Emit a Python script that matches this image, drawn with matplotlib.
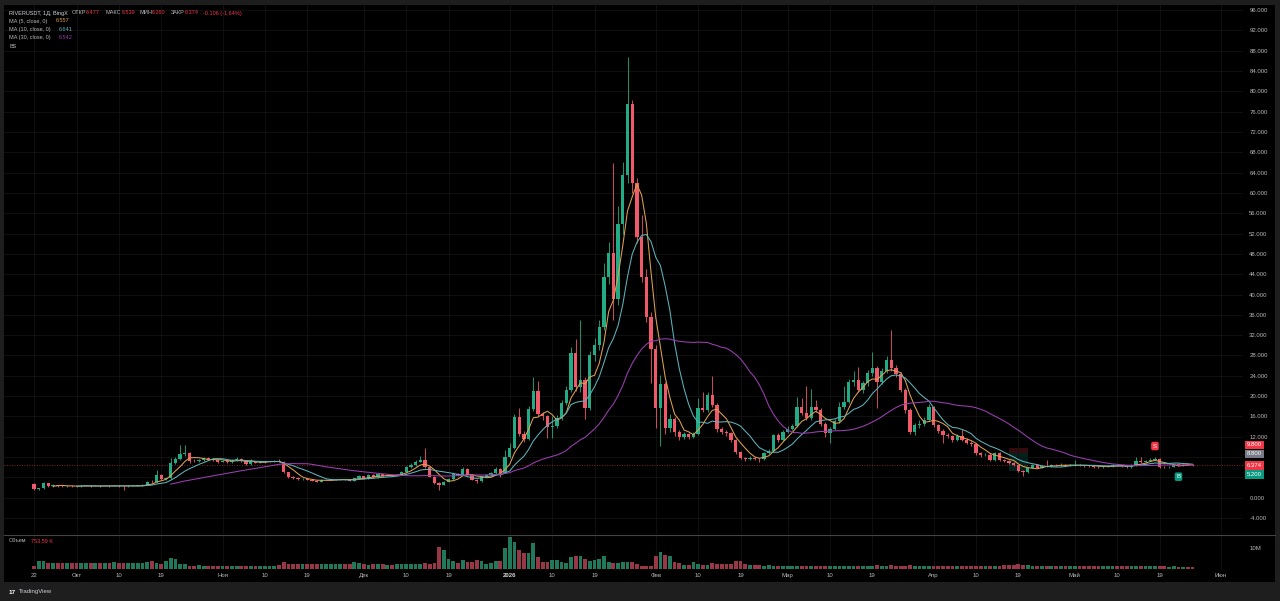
import numpy as np
import pandas as pd
import matplotlib
matplotlib.use('Agg')
import matplotlib.pyplot as plt
import matplotlib.transforms as mtransforms
from matplotlib.patches import Rectangle
from matplotlib.lines import Line2D

plt.rcParams['font.family'] = ['Liberation Sans', 'DejaVu Sans']

# ---------------- data ----------------
start_date = '2025-09-22'
first_open = 2.6

closes = [
    1.7, 1.9, 2.8, 2.3, 2.5, 2.3, 2.25, 2.3, 2.28, 2.25,
    2.3, 2.35, 2.3, 2.32, 2.3, 2.35, 2.3, 2.33, 2.3, 2.25,
    2.3, 2.35, 2.4, 2.45, 3.1, 3.0, 4.4, 3.7, 3.8, 6.8,
    7.6, 8.6, 8.8, 7.3, 7.2, 7.4, 7.9, 7.6, 7.4, 7.1,
    7.3, 7.0, 7.4, 7.6, 7.2, 6.6, 7.2, 6.9, 7.0, 7.1,
    7.2, 7.3, 7.1, 5.0, 4.1, 3.9, 3.6, 3.7, 3.5, 3.3,
    3.1, 3.5, 3.5, 3.6, 3.6, 3.65, 3.62, 3.36, 3.82, 4.28,
    3.75, 4.48, 4.0, 4.67, 4.3, 4.4, 4.35, 4.45, 5.13, 6.1,
    6.4, 7.1, 7.4, 6.0, 4.15, 2.84, 2.5, 3.17, 3.6, 4.6,
    4.5, 5.6, 4.5, 3.5, 3.2, 4.1, 4.4, 4.8, 5.6, 4.9,
    8.0, 9.7, 15.9, 12.6, 11.6, 17.5, 21.1, 16.5, 16.0, 14.0,
    14.2, 15.6, 18.7, 21.2, 28.4, 21.8, 23.1, 17.6, 28.0, 30.0,
    33.7, 43.5, 48.1, 39.2, 53.9, 63.5, 77.6, 61.9, 51.4, 43.5,
    35.6, 29.3, 17.7, 22.3, 13.8, 15.5, 12.9, 11.9, 12.5, 12.0,
    12.6, 17.7, 17.3, 20.2, 18.2, 13.6, 13.0, 12.7, 11.4, 9.0,
    7.9, 7.7, 7.9, 7.7, 7.6, 8.8, 9.2, 12.3, 11.3, 13.0,
    13.6, 14.1, 17.8, 16.6, 15.6, 17.8, 17.3, 14.6, 12.7, 13.6,
    15.0, 17.8, 18.9, 22.8, 23.2, 21.2, 22.5, 24.5, 25.5, 22.8,
    25.0, 27.1, 25.5, 24.3, 21.2, 17.2, 13.0, 14.3, 14.5, 15.3,
    17.8, 14.3, 13.2, 12.4, 12.1, 11.4, 12.1, 11.4, 10.8, 10.5,
    8.7, 8.4, 8.5, 7.5, 8.8, 7.4, 7.2, 6.9, 6.4, 5.3,
    5.0, 5.9, 6.4, 5.9, 6.3, 6.2, 6.5, 6.4, 6.5, 6.3,
    6.4, 6.5, 6.4, 6.3, 6.2, 6.1, 6.0, 6.1, 6.2, 6.5,
    6.4, 6.2, 6.0, 6.4, 7.3, 7.0, 7.3, 7.5, 7.7, 6.1,
    6.0, 6.1, 6.7, 6.4, 6.5, 6.477, 6.374,
]

highs = [
    2.8, 2.0, 3.0, 2.9, 2.6, 2.55, 2.4, 2.4, 2.4, 2.35,
    2.4, 2.45, 2.4, 2.4, 2.45, 2.45, 2.4, 2.4, 2.4, 2.35,
    2.4, 2.45, 2.5, 2.6, 3.3, 3.5, 5.4, 4.6, 4.0, 7.8,
    8.0, 10.4, 10.4, 9.0, 7.6, 7.6, 8.1, 8.0, 7.8, 7.5,
    7.5, 7.4, 7.6, 8.0, 7.8, 7.3, 7.7, 7.3, 7.2, 7.3,
    7.3, 7.5, 7.6, 7.2, 5.1, 4.3, 4.0, 3.9, 3.8, 3.6,
    3.4, 3.6, 3.7, 3.7, 3.7, 3.75, 3.75, 3.7, 3.9, 4.4,
    4.35, 4.6, 4.6, 4.8, 4.75, 4.55, 4.5, 4.6, 5.3, 6.3,
    6.8, 7.4, 8.2, 9.7, 6.1, 4.3, 3.0, 3.3, 3.8, 4.8,
    4.9, 6.1, 5.8, 4.6, 3.7, 4.3, 4.6, 5.0, 6.0, 5.8,
    9.4, 10.7, 16.5, 17.6, 13.2, 18.0, 23.8, 22.9, 16.8, 16.3,
    16.0, 16.2, 19.3, 22.0, 29.6, 31.2, 35.0, 23.8, 28.8, 31.5,
    35.0, 46.2, 50.4, 65.9, 57.5, 66.0, 86.8, 78.3, 63.0, 55.7,
    45.0, 36.5, 30.0, 24.2, 22.8, 16.5, 15.8, 13.3, 12.9, 12.8,
    13.0, 19.6, 20.8, 20.8, 24.0, 18.6, 14.0, 13.4, 13.0, 11.6,
    9.2, 8.1, 8.2, 8.0, 7.9, 9.0, 9.6, 12.6, 12.8, 13.4,
    14.2, 14.5, 19.9, 19.7, 21.9, 21.4, 19.2, 17.6, 14.9, 14.0,
    15.4, 18.9, 21.9, 23.4, 25.0, 25.8, 23.0, 25.2, 28.6, 26.0,
    25.6, 27.8, 33.0, 26.2, 24.8, 21.6, 17.6, 14.8, 15.2, 15.8,
    18.5, 18.1, 14.6, 13.6, 12.8, 12.3, 12.5, 13.5, 11.7, 11.1,
    10.7, 8.9, 8.8, 8.7, 9.0, 9.0, 7.6, 7.4, 7.0, 6.5,
    5.5, 6.1, 6.6, 6.5, 6.5, 7.4, 6.7, 6.7, 6.8, 6.6,
    6.6, 7.5, 6.6, 6.5, 6.4, 6.3, 6.2, 6.3, 6.4, 6.7,
    6.6, 6.5, 6.3, 6.6, 8.1, 8.1, 7.5, 7.8, 8.1, 7.8,
    6.3, 6.3, 6.9, 6.8, 6.7, 6.6, 6.539,
]

lows = [
    1.5, 1.6, 1.8, 2.2, 2.2, 2.2, 2.15, 2.2, 2.2, 2.15,
    2.2, 2.25, 2.2, 2.25, 2.2, 2.25, 2.2, 2.25, 2.2, 1.6,
    2.2, 2.25, 2.3, 2.35, 2.4, 2.9, 2.9, 3.5, 3.5, 3.7,
    6.6, 7.4, 8.3, 6.8, 7.0, 7.0, 7.3, 7.4, 7.2, 6.9,
    7.0, 6.8, 6.9, 7.3, 7.0, 6.5, 6.5, 6.8, 6.8, 6.9,
    7.0, 7.1, 7.0, 4.8, 3.9, 3.7, 3.5, 3.5, 3.4, 3.2,
    3.0, 3.0, 3.4, 3.4, 3.5, 3.5, 3.5, 3.25, 3.3, 3.75,
    3.7, 3.7, 3.9, 3.95, 4.2, 4.25, 4.25, 4.3, 4.4, 5.0,
    5.9, 6.3, 7.0, 5.9, 4.0, 2.7, 1.5, 2.4, 3.1, 3.5,
    4.3, 4.4, 4.4, 3.4, 2.8, 3.1, 4.0, 4.3, 4.7, 4.1,
    4.8, 7.8, 9.5, 12.2, 10.9, 11.4, 17.0, 16.0, 15.2, 11.8,
    11.7, 13.8, 15.2, 18.2, 20.8, 21.0, 20.8, 15.5, 17.2, 27.0,
    29.0, 33.0, 42.0, 35.0, 38.0, 52.0, 62.0, 60.0, 50.1, 42.5,
    34.5, 22.5, 13.8, 10.2, 12.5, 13.0, 12.2, 11.3, 11.5, 11.6,
    11.7, 12.4, 16.8, 16.9, 17.8, 13.0, 12.5, 12.2, 11.0, 8.6,
    7.6, 7.3, 7.5, 7.4, 7.0, 7.5, 8.6, 9.0, 11.0, 11.1,
    12.7, 13.3, 13.9, 16.2, 15.2, 15.3, 16.9, 14.2, 12.0, 10.7,
    13.3, 14.8, 17.5, 18.6, 22.0, 20.8, 20.6, 22.0, 24.0, 17.6,
    22.3, 24.6, 25.0, 23.8, 20.8, 16.6, 12.5, 12.3, 13.8, 14.1,
    15.0, 14.0, 12.8, 10.7, 11.8, 11.0, 11.2, 11.1, 10.5, 10.2,
    8.4, 8.1, 8.2, 7.2, 7.3, 7.2, 7.0, 6.7, 6.2, 5.1,
    4.2, 4.9, 5.8, 5.8, 5.8, 6.0, 6.1, 6.2, 6.3, 6.2,
    6.2, 6.3, 6.2, 6.1, 6.0, 5.9, 5.8, 5.9, 6.0, 6.1,
    6.3, 6.1, 5.9, 5.9, 6.3, 6.9, 6.9, 7.2, 7.4, 5.9,
    5.8, 5.9, 6.0, 6.3, 6.3, 6.35, 6.26,
]

volumes_m = [
    1.6, 3.7, 3.7, 2.9, 2.9, 3.0, 2.8, 2.9, 3.0, 2.8,
    2.9, 3.0, 2.8, 2.9, 3.0, 2.8, 2.9, 3.1, 2.8, 2.9,
    3.0, 2.8, 2.7, 3.0, 3.2, 3.7, 3.0, 2.4, 4.0, 5.4,
    4.8, 2.6, 2.2, 1.6, 1.5, 1.8, 1.4, 1.4, 1.3, 1.4,
    1.3, 1.4, 1.5, 1.4, 1.3, 1.4, 1.3, 1.4, 1.5, 1.3,
    1.4, 1.5, 1.9, 3.4, 2.6, 2.4, 2.4, 2.3, 2.4, 2.4,
    2.3, 2.4, 2.4, 2.3, 2.4, 2.2, 2.4, 2.4, 3.4, 2.8,
    2.4, 2.1, 2.3, 2.6, 2.2, 2.0, 2.1, 2.2, 2.4, 2.5,
    2.3, 2.4, 2.6, 2.9, 2.6, 2.9, 10.6, 9.0, 4.8, 4.0,
    2.9, 4.2, 3.2, 3.2, 4.2, 4.0, 2.3, 2.9, 3.8, 4.0,
    10.0, 15.4, 13.0, 9.0, 7.4, 7.4, 12.5, 5.8, 3.5, 3.4,
    4.5, 4.2, 3.4, 2.9, 5.6, 6.1, 6.1, 4.8, 3.7, 4.5,
    4.8, 6.1, 3.4, 3.0, 2.9, 3.2, 3.4, 3.2, 2.4, 1.6,
    1.3, 1.4, 6.1, 8.2, 6.9, 6.4, 3.5, 2.9, 1.9, 1.9,
    3.2, 2.6, 1.9, 2.1, 2.9, 2.6, 2.2, 2.6, 2.2, 3.8,
    3.8, 2.6, 1.9, 1.7, 1.8, 1.6, 1.7, 1.6, 1.5, 1.4,
    1.6, 1.5, 1.6, 1.5, 1.6, 1.5, 1.4, 1.5, 1.4, 1.3,
    1.5, 1.4, 1.5, 1.6, 1.5, 1.4, 1.3, 1.5, 1.6, 1.9,
    1.5, 1.6, 1.8, 1.6, 1.5, 1.6, 1.8, 1.5, 1.4, 1.5,
    1.6, 1.5, 1.4, 1.5, 1.4, 1.5, 1.3, 1.4, 1.5, 1.4,
    1.5, 1.4, 1.3, 1.5, 1.6, 1.4, 1.7, 1.9, 2.0, 2.2,
    2.1, 1.8, 1.6, 1.5, 1.4, 1.5, 1.3, 1.4, 1.3, 1.2,
    1.4, 1.5, 1.3, 1.2, 1.3, 1.2, 1.3, 1.2, 1.4, 1.3,
    1.2, 1.3, 1.2, 1.4, 1.6, 1.3, 1.4, 1.3, 1.4, 1.5,
    1.2, 1.1, 1.3, 1.1, 1.0, 0.9, 0.754,
]

price_ticks = list(range(-4, 97, 4))
hidden_price_ticks = [4, 8]
vol_tick = 10
vol_tick_label = '10M'

tick_dates = ['2025-09-22', '2025-10-01', '2025-10-10', '2025-10-19', '2025-11-01',
              '2025-11-10', '2025-11-19', '2025-12-01', '2025-12-10', '2025-12-19',
              '2026-01-01', '2026-01-10', '2026-01-19', '2026-02-01', '2026-02-10',
              '2026-02-19', '2026-03-01', '2026-03-10', '2026-03-19', '2026-04-01',
              '2026-04-10', '2026-04-19', '2026-05-01', '2026-05-10', '2026-05-19',
              '2026-06-01']
tick_labels = ['22', 'Окт', '10', '19', 'Ноя', '10', '19', 'Дек', '10', '19',
               '2026', '10', '19', 'Фев', '10', '19', 'Мар', '10', '19', 'Апр',
               '10', '19', 'Май', '10', '19', 'Июн']

header_values = {'open': '6.477', 'high': '6.539', 'low': '6.260', 'close': '6.374',
                 'change': '-0.106 (-1,64%)'}
ma_periods = [5, 10, 30]
ma_values_text = ['6.557', '6.641', '6.542']
volume_text = '753,59 K'

position_start, position_end = '2026-04-17', '2026-04-21'
position_stop, position_entry, position_target = 9.8, 8.8, 5.2
sell_signal_date, buy_signal_date = '2026-05-18', '2026-05-23'

assert len(closes) == len(highs) == len(lows) == len(volumes_m) == 247

# ---------------- style ----------------
UP, DOWN = '#22ab84', '#f0596a'
VUP, VDOWN = '#21785a', '#983846'
MA_COLORS = ['#dfa24e', '#5fb3bb', '#9c3fb5']
TXT = '#b8b8b8'
GRID = '#131313'
FS = 4.3
FS_LEG = 4.0

W, H = 1280, 601
def fx(px):
    return px / W
def fy(py):
    return 1 - py / H

start = pd.Timestamp(start_date)
def day(d):
    return (pd.Timestamp(d) - start).days

opens = [first_open] + closes[:-1]
o = np.array(opens)
c = np.array(closes)
hi = np.array(highs)
lo = np.array(lows)
vol = np.array(volumes_m)
days = np.arange(len(c))
up = c >= o

fig = plt.figure(figsize=(12.8, 6.01), dpi=100, facecolor='#1e1e1e')

bg = fig.add_axes([fx(4), fy(582), fx(1275) - fx(4), fy(5) - fy(582)])
bg.set_facecolor('#000000')
bg.set_xticks([]); bg.set_yticks([])
for s in bg.spines.values():
    s.set_visible(False)

ax = fig.add_axes([fx(4), fy(534), fx(1243) - fx(4), fy(5) - fy(534)])
axv = fig.add_axes([fx(4), fy(569), fx(1243) - fx(4), fy(535) - fy(569)], sharex=ax)
for a in (ax, axv):
    a.set_facecolor('none')
    for s in a.spines.values():
        s.set_visible(False)

ax.set_xlim(-6.4, 256.7)
ax.set_ylim(-7.15, 97.0)
axv.set_ylim(0, 16.19)

xt = [day(d) for d in tick_dates]
ax.set_xticks(xt)
ax.tick_params(axis='x', length=0, labelbottom=False)
ax.yaxis.tick_right()
ax.set_yticks(price_ticks)
ax.set_yticklabels(['' if t in hidden_price_ticks else f'{t:.3f}' for t in price_ticks])
ax.tick_params(axis='y', length=0, pad=4.5, labelsize=FS, labelcolor=TXT)
ax.grid(True, color=GRID, lw=0.6, zorder=0)

axv.yaxis.tick_right()
axv.set_yticks([vol_tick])
axv.set_yticklabels([vol_tick_label])
axv.tick_params(axis='y', length=0, pad=4.5, labelsize=FS, labelcolor=TXT)
axv.set_xticks(xt)
axv.set_xticklabels(tick_labels)
axv.tick_params(axis='x', length=0, pad=3.2, labelsize=FS, labelcolor=TXT)
for lbl in axv.get_xticklabels():
    if lbl.get_text() == '2026':
        lbl.set_fontweight('bold')
        lbl.set_color('#d8d8d8')
axv.grid(True, axis='x', color=GRID, lw=0.6, zorder=0)

# position tool
ps, pe = day(position_start), day(position_end)
ax.add_patch(Rectangle((ps, position_entry), pe - ps, position_stop - position_entry,
                       facecolor='#f23645', alpha=0.22, edgecolor='none', zorder=1))
ax.add_patch(Rectangle((ps, position_target), pe - ps, position_entry - position_target,
                       facecolor='#089981', alpha=0.22, edgecolor='none', zorder=1))

# last price dotted line
ax.axhline(c[-1], color='#f23645', ls=(0, (1, 2)), lw=0.6, alpha=0.75, zorder=2)

# candles
colors = np.where(up, UP, DOWN)
ax.vlines(days, lo, hi, colors=colors, lw=0.6, zorder=3)
body_bottom = np.minimum(o, c)
body_h = np.maximum(np.abs(c - o), 0.08)
ax.bar(days, body_h, bottom=body_bottom, width=0.7, color=colors, linewidth=0, zorder=4)

# moving averages
cs = pd.Series(c)
for p, col in zip(ma_periods, MA_COLORS):
    ax.plot(days, cs.rolling(p).mean(), color=col, lw=0.75, zorder=5)

# volume
axv.bar(days, vol, width=0.8, color=np.where(up, VUP, VDOWN), linewidth=0, zorder=3)

# price scale labels
trans = mtransforms.blended_transform_factory(ax.transAxes, ax.transData)
for val, col, dy in [(position_stop, '#f23645', 3), (position_entry, '#787b86', -1),
                     (c[-1], '#f23645', 0), (position_target, '#089981', -3)]:
    ax.annotate(f'{val:.3f}', xy=(1, val), xycoords=trans, xytext=(4, dy),
                textcoords='offset pixels', ha='left', va='center', fontsize=FS,
                color='white', annotation_clip=False, zorder=10,
                bbox=dict(boxstyle='square,pad=0.3', fc=col, ec='none'))

# signals
sd, bd = day(sell_signal_date), day(buy_signal_date)
ax.annotate('S', xy=(sd, hi[sd]), xytext=(0, 10.5), textcoords='offset pixels',
            ha='center', va='center', fontsize=FS, color='white', zorder=10,
            bbox=dict(boxstyle='round,pad=0.3', fc='#f23645', ec='none'))
ax.annotate('B', xy=(bd, lo[bd]), xytext=(0, -11), textcoords='offset pixels',
            ha='center', va='center', fontsize=FS, color='white', zorder=10,
            bbox=dict(boxstyle='round,pad=0.3', fc='#089981', ec='none'))

# pane separator
fig.add_artist(Line2D([fx(4), fx(1275)], [fy(534.5), fy(534.5)], color='#444444', lw=0.8))

# header legend
def ftext(xp, yp, s, col, fs=FS_LEG, **kw):
    fig.text(fx(xp), fy(yp), s, color=col, fontsize=fs, ha='left', va='center', **kw)

RED = '#f23645'
ftext(9, 13, 'RIVERUSDT, 1Д, BingX', '#d1d4dc')
ftext(72, 13, 'ОТКР', TXT); ftext(86, 13, header_values['open'], RED)
ftext(105, 13, 'МАКС', TXT); ftext(122, 13, header_values['high'], RED)
ftext(140, 13, 'МИН', TXT); ftext(152, 13, header_values['low'], RED)
ftext(171, 13, 'ЗАКР', TXT); ftext(185, 13, header_values['close'], RED)
ftext(203, 13, header_values['change'], RED)
for i, (p, col, v) in enumerate(zip(ma_periods, MA_COLORS, ma_values_text)):
    yy = 21 + i * 8.4
    ftext(9, yy, f'MA ({p}, close, 0)', TXT)
    ftext(56 if p < 10 else 58.5, yy, v, col)
ftext(9, 46, 'BS', TXT)
ftext(9, 541, 'Объем', TXT)
ftext(31, 541, volume_text, RED)

# TradingView mark
ftext(9, 592, '17', 'white', fs=4.6, fontweight='bold')
ftext(19, 592, 'TradingView', '#d1d4dc', fs=4.3)

fig.savefig('out.png', dpi=100, facecolor=fig.get_facecolor())
